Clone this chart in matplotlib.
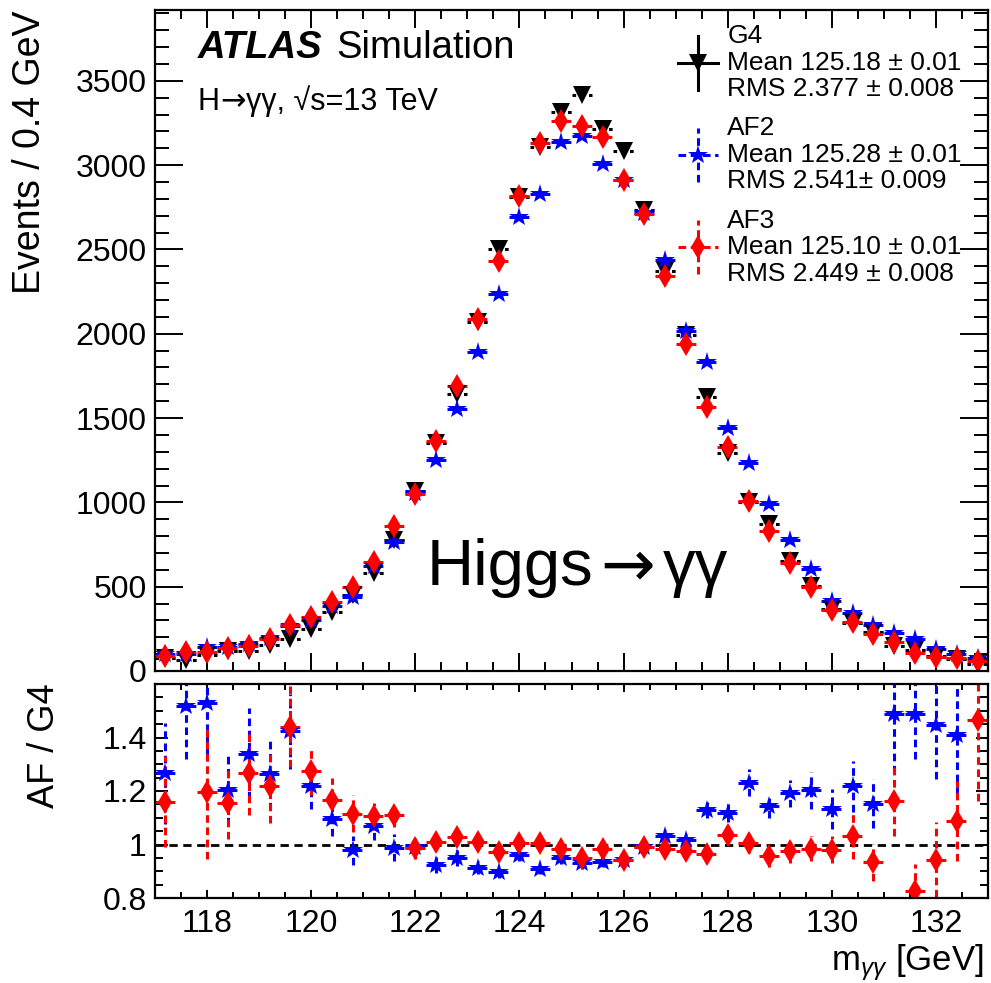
import matplotlib
matplotlib.use("Agg")
import matplotlib.pyplot as plt
import numpy as np
from matplotlib.ticker import MultipleLocator, FixedLocator, FixedFormatter

plt.rcParams['font.family'] = ['Liberation Sans', 'DejaVu Sans']
plt.rcParams['mathtext.fontset'] = 'custom'
plt.rcParams['mathtext.rm'] = 'Liberation Sans'
plt.rcParams['mathtext.it'] = 'Liberation Sans:italic'

# 0.4 GeV bins from 117 to 133 GeV
bin_centers = np.arange(117.2, 133.0, 0.4)
half_bin = 0.2

g4 = [78, 65, 92, 120, 118, 155, 189, 249, 352, 448,
      584, 775, 1066, 1353, 1640, 2070, 2500, 2810, 3110, 3315,
      3415, 3215, 3085, 2735, 2370, 1990, 1625, 1290, 1005, 870,
      655, 505, 370, 282, 234, 150, 127, 90, 72, 40]
af2 = [99, 99, 141, 144, 158, 196, 269, 303, 386, 438,
       624, 766, 1055, 1249, 1555, 1890, 2235, 2695, 2830, 3140,
       3175, 3005, 2910, 2715, 2440, 2015, 1830, 1440, 1235, 990,
       775, 605, 418, 343, 270, 223, 189, 130, 101, 75]
af3 = [90, 110, 110, 139, 149, 189, 272, 318, 411, 500,
       645, 862, 1051, 1365, 1688, 2085, 2430, 2815, 3130, 3260,
       3235, 3165, 2910, 2710, 2340, 1940, 1565, 1330, 1010, 833,
       638, 498, 362, 292, 218, 174, 105, 85, 78, 58]

ratio_af2 = [1.266, 1.519, 1.529, 1.202, 1.340, 1.264, 1.423, 1.217, 1.097, 0.978,
             1.068, 0.988, 0.990, 0.923, 0.948, 0.914, 0.896, 0.960, 0.910, 0.948,
             0.929, 0.935, 0.943, 0.992, 1.031, 1.016, 1.130, 1.118, 1.231, 1.143,
             1.192, 1.202, 1.133, 1.217, 1.153, 1.488, 1.488, 1.445, 1.408, 1.750]
ratio_af2_err = [0.19, 0.20, 0.20, 0.13, 0.17, 0.135, 0.14, 0.085, 0.065, 0.055,
                 0.05, 0.05, 0.04, 0.03, 0.03, 0.025, 0.02, 0.02, 0.02, 0.02,
                 0.02, 0.02, 0.02, 0.02, 0.025, 0.025, 0.03, 0.035, 0.05, 0.045,
                 0.05, 0.07, 0.075, 0.095, 0.09, 0.22, 0.17, 0.20, 0.22, 0.10]
ratio_af3 = [1.159, 1.700, 1.196, 1.155, 1.266, 1.217, 1.441, 1.275, 1.167, 1.115,
             1.105, 1.112, 0.986, 1.009, 1.029, 1.009, 0.972, 1.004, 1.007, 0.985,
             0.948, 0.985, 0.943, 0.990, 0.985, 0.976, 0.964, 1.034, 1.004, 0.957,
             0.976, 0.985, 0.980, 1.031, 0.933, 1.161, 0.828, 0.943, 1.087, 1.464]
ratio_af3_err = [0.17, 0.08, 0.25, 0.135, 0.155, 0.135, 0.15, 0.09, 0.08, 0.07,
                 0.05, 0.045, 0.04, 0.03, 0.03, 0.025, 0.02, 0.02, 0.02, 0.02,
                 0.02, 0.02, 0.02, 0.02, 0.025, 0.025, 0.03, 0.035, 0.035, 0.04,
                 0.045, 0.045, 0.05, 0.085, 0.07, 0.13, 0.10, 0.14, 0.15, 0.30]

legend_entries = [("G4", "Mean 125.18 \u00b1 0.01", "RMS 2.377 \u00b1 0.008"),
                  ("AF2", "Mean 125.28 \u00b1 0.01", "RMS 2.541\u00b1 0.009"),
                  ("AF3", "Mean 125.10 \u00b1 0.01", "RMS 2.449 \u00b1 0.008")]

styles = [dict(color="black", marker="v", ms=13, ls=(0, (1.2, 1.5))),
          dict(color="blue", marker="*", ms=14.5, ls=(0, (2.5, 1.5))),
          dict(color="red", marker="d", ms=12, ls=(0, (2.5, 1.5)))]

W, H = 991, 983
fig = plt.figure(figsize=(W / 100, H / 100), dpi=100)
ax = fig.add_axes([155 / W, 1 - 671 / H, 833 / W, 661 / H])
rax = fig.add_axes([155 / W, 1 - 898 / H, 833 / W, 214 / H], sharex=ax)


def draw(a, y, yerr, st):
    eb = a.errorbar(bin_centers, y, xerr=half_bin, yerr=yerr, fmt=st["marker"],
                    color=st["color"], ms=st["ms"], mew=0, elinewidth=2.2, capsize=0)
    for lc in eb[2]:
        lc.set_linestyle(st["ls"])
    return eb


def chain_text(x, y, parts, size, gap=0):
    # pieces side by side, so the arrow can come from a font with a long one
    r = fig.canvas.get_renderer()
    for s, fam in parts:
        t = fig.text(x, y, s, fontsize=size, family=fam, va="baseline")
        x = (t.get_window_extent(renderer=r).x1 + gap) / fig.bbox.width


draw(ax, g4, None, styles[0])
draw(ax, af2, None, styles[1])
draw(ax, af3, None, styles[2])

rax.axhline(1.0, color="black", lw=2, ls=(0, (3, 2)))
draw(rax, ratio_af2, ratio_af2_err, styles[1])
draw(rax, ratio_af3, ratio_af3_err, styles[2])

ax.set_xlim(117, 133)
ax.set_ylim(0, 3920)
rax.set_ylim(0.8, 1.6)

for a in (ax, rax):
    a.xaxis.set_major_locator(MultipleLocator(2))
    a.xaxis.set_minor_locator(MultipleLocator(0.5))
    for s in a.spines.values():
        s.set_linewidth(1.6)
    a.tick_params(which="both", direction="in", top=True, right=True, width=1.4,
                  labelsize=23)

ax.yaxis.set_major_locator(MultipleLocator(500))
ax.yaxis.set_minor_locator(MultipleLocator(100))
ax.tick_params(axis="y", which="major", length=20, pad=6)
ax.tick_params(axis="y", which="minor", length=10)
ax.tick_params(axis="x", which="major", length=13, labelbottom=False)
ax.tick_params(axis="x", which="minor", length=6.5)

rax.yaxis.set_major_locator(FixedLocator([0.8, 1.0, 1.2, 1.4]))
rax.yaxis.set_major_formatter(FixedFormatter(["0.8", "1", "1.2", "1.4"]))
rax.yaxis.set_minor_locator(MultipleLocator(0.05))
rax.tick_params(axis="y", which="major", length=9, pad=6)
rax.tick_params(axis="y", which="minor", length=6)
rax.tick_params(axis="x", which="major", length=6, pad=8)
rax.tick_params(axis="x", which="minor", length=4)

# legend drawn by hand, ROOT style
leg_y = [0.920, 0.781, 0.641]
for (name, mean, rms), st, yc in zip(legend_entries, styles, leg_y):
    ls = "-" if st["color"] == "black" else (0, (2.5, 1.5))
    ax.plot([0.628, 0.676], [yc, yc], transform=ax.transAxes, color=st["color"], lw=2.2, ls=ls)
    ax.plot([0.652, 0.652], [yc - 0.041, yc + 0.041], transform=ax.transAxes,
            color=st["color"], lw=2.2, ls=ls)
    ax.plot([0.652], [yc], transform=ax.transAxes, marker=st["marker"], ms=st["ms"],
            mew=0, color=st["color"])
    ax.text(0.687, yc, name + "\n" + mean + "\n" + rms, transform=ax.transAxes,
            ha="left", va="center", fontsize=19, linespacing=1.13)

fig.text(198 / W, 1 - 58 / H, "ATLAS", fontsize=27.5, fontweight="bold", style="italic",
         va="baseline")
fig.text(336 / W, 1 - 58 / H, "Simulation", fontsize=27.5, va="baseline")
chain_text(198 / W, 1 - 110 / H,
           [("H", "Liberation Sans"), ("\u2192", "DejaVu Sans"),
            ("\u03b3\u03b3, \u221as=13 TeV", "Liberation Sans")], 22)
chain_text(427 / W, 1 - 585 / H,
           [("Higgs", "Liberation Sans"), ("\u2192", "DejaVu Sans"),
            ("\u03b3\u03b3", "Liberation Sans")], 47, gap=7)

fig.text(30 / W, 1 - 10 / H, "Events / 0.4 GeV", rotation=90, ha="center", va="top", fontsize=27)
fig.text(45 / W, 1 - 683 / H, "AF / G4", rotation=90, ha="center", va="top", fontsize=26)
fig.text(984 / W, 1 - 970 / H, r"m$_{\gamma\gamma}$ [GeV]", ha="right", va="baseline", fontsize=25)

fig.savefig("out.png", dpi=100)
